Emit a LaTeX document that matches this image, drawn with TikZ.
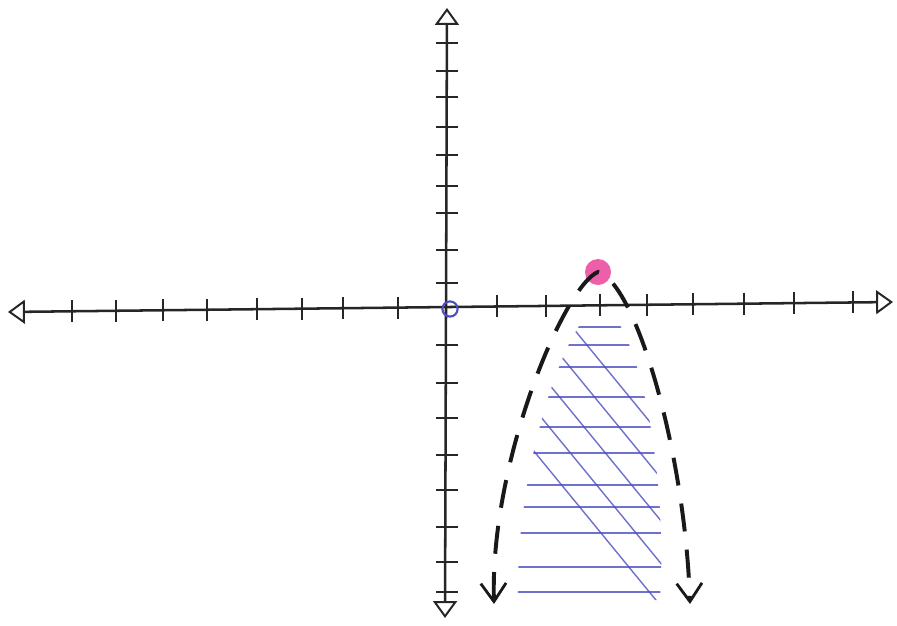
\documentclass[tikz,border=0pt]{standalone}
\usepackage{tikz}
\usetikzlibrary{arrows.meta}
\definecolor{vertexpink}{HTML}{EE5FAA}
\definecolor{hatchblue}{HTML}{4A4DC0}

\begin{document}
\begin{tikzpicture}[x=0.025cm,y=-0.025cm,
  axisline/.style={line width=1.8pt,draw=black!85,
    {Triangle[open,length=12pt,width=17pt,line width=1.4pt]}-{Triangle[open,length=12pt,width=17pt,line width=1.4pt]}},
  tickmark/.style={line width=1.6pt,draw=black!85},
  curvebranch/.style={line width=2.8pt,draw=black!90,dash pattern=on 20pt off 13pt,
    {Straight Barb[length=13pt,width=18pt,line width=2pt]}-{Straight Barb[length=13pt,width=18pt,line width=2pt]}},
  hatchline/.style={draw=hatchblue,line width=1pt,opacity=0.8},
]
  \useasboundingbox (0,0) rectangle (897,626);

  % axes
  \coordinate (xleft) at (8,312);
  \coordinate (xright) at (893,302);
  \coordinate (ytop) at (447,8);
  \coordinate (ybottom) at (445,618);
  \draw[axisline] (xleft) -- (xright);
  \draw[axisline] (ybottom) -- (ytop);
  \foreach \tx in {72,116,163,207,257,302,343,398,497,546,600,647,693,744,794,853}
    \draw[tickmark] (\tx,{301-0.0113*(\tx-8)}) -- ++(0,22);
  \foreach \ty in {43,71,97,127,155,186,213,250,283,345,383,418,455,490,527,562,592}
    \draw[tickmark] (436,\ty) -- ++(22,0);

  % shaded region
  \begin{scope}
    \clip (518,600) .. controls (515,470) and (565,318) .. (600,305)
      .. controls (638,318) and (668,470) .. (660,600) -- cycle;
    \foreach \hy in {327,345,367,397,427,453,485,507,533,567,592}
      \draw[hatchline] (480,\hy) -- (700,\hy);
    \foreach \hx in {410,445,480,515,550}
      \draw[hatchline] (\hx,300) -- ++(250,305);
  \end{scope}

  % points
  \node[circle,draw=hatchblue,line width=1.5pt,minimum size=0.38cm,inner sep=0pt] (origin) at (450,309) {};
  \node[circle,fill=vertexpink,minimum size=0.65cm,inner sep=0pt] (vertex) at (598,272) {};

  % parabola
  \coordinate (lefttip) at (494,604);
  \coordinate (righttip) at (690,604);
  \draw[curvebranch] (lefttip) .. controls (490,460) and (565,285) .. (vertex.center)
    .. controls (635,282) and (685,450) .. (righttip);
\end{tikzpicture}
\end{document}
